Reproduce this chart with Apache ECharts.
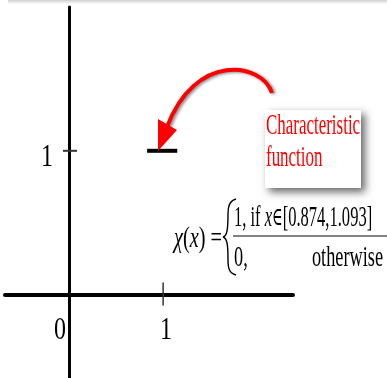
<!DOCTYPE html>
<html>
<head>
<meta charset="utf-8">
<script src="https://cdn.jsdelivr.net/npm/echarts@6/dist/echarts.min.js"></script>
<style>
  html, body { margin: 0; padding: 0; background: #fff; }
  #chart { width: 387px; height: 378px; }
</style>
</head>
<body>
<div id="chart"></div>
<script>
// axis ranges (origin sits near the lower left)
const xRange = [-0.68, 2.38];
const yRange = [-0.58, 2.0];

// ticks and tick labels
const xTicks = [1];
const yTicks = [1];
const xTickLabels = [0, 1];
const yTickLabels = [1];

// the characteristic function: 1 on a short interval around x = 1
const segmentX = [0.83, 1.15];
const segmentY = 1;

// annotation texts
const calloutLines = ["Characteristic", "function"];
const formulaLeft = "{i|χ}({i|x}) =";
const formulaTop = "1, if {i|x}{s|∈}[0.874,1.093]";
const formulaBottomLeft = "0,";
const formulaBottomRight = "otherwise";

const serif = "'Liberation Serif', 'Times New Roman', serif";
const chart = echarts.init(document.getElementById("chart"));

const labelText = (x, y, text) => ({
  type: "text",
  x: x,
  y: y,
  scaleX: 0.75,
  style: {
    text: String(text),
    fontFamily: serif,
    fontSize: 32,
    fill: "#000",
    align: "center",
    verticalAlign: "middle",
  },
});

chart.setOption({
  animation: false,
  grid: { left: 5, right: 94, top: 7, bottom: 0, containLabel: false },
  xAxis: {
    type: "value",
    min: xRange[0],
    max: xRange[1],
    axisLine: { onZero: true, lineStyle: { color: "#000", width: 4 } },
    axisTick: { show: false },
    axisLabel: { show: false },
    splitLine: { show: false },
  },
  yAxis: {
    type: "value",
    min: yRange[0],
    max: yRange[1],
    axisLine: { onZero: true, lineStyle: { color: "#000", width: 3 } },
    axisTick: { show: false },
    axisLabel: { show: false },
    splitLine: { show: false },
  },
  series: [
    {
      name: "chi",
      type: "line",
      data: segmentX.map((x) => [x, segmentY]),
      symbol: "none",
      lineStyle: { color: "#000", width: 4, cap: "butt" },
      z: 3,
    },
    {
      // x ticks cross the axis line
      type: "custom",
      data: xTicks.map((v) => [v, 0]),
      renderItem: (params, api) => {
        const p = api.coord([api.value(0), api.value(1)]);
        return {
          type: "line",
          shape: { x1: p[0], y1: p[1] - 12, x2: p[0], y2: p[1] + 11 },
          style: { stroke: "#333", lineWidth: 1.5 },
        };
      },
      z: 4,
    },
    {
      type: "custom",
      data: yTicks.map((v) => [0, v]),
      renderItem: (params, api) => {
        const p = api.coord([api.value(0), api.value(1)]);
        return {
          type: "line",
          shape: { x1: p[0] - 6, y1: p[1], x2: p[0] + 8, y2: p[1] },
          style: { stroke: "#333", lineWidth: 2 },
        };
      },
      z: 4,
    },
    {
      type: "custom",
      data: xTickLabels.map((v) => [v, 0]),
      renderItem: (params, api) => {
        const v = api.value(0);
        const p = api.coord([v, 0]);
        // the 0 is pushed left, off the vertical axis
        const dx = v === 0 ? -9 : 3;
        return labelText(p[0] + dx, p[1] + 36, v);
      },
    },
    {
      type: "custom",
      data: yTickLabels.map((v) => [0, v]),
      renderItem: (params, api) => {
        const v = api.value(1);
        const p = api.coord([0, v]);
        return labelText(p[0] - 22, p[1] + 7, v);
      },
    },
  ],
  graphic: [
    // faint grey edge along the top
    {
      type: "rect",
      shape: { x: 8, y: 0, width: 390, height: 4 },
      style: {
        fill: new echarts.graphic.LinearGradient(0, 0, 0, 1, [
          { offset: 0, color: "#cfcfcf" },
          { offset: 1, color: "#ffffff" },
        ]),
      },
    },
    // callout box
    {
      type: "rect",
      shape: { x: 265, y: 110, width: 96, height: 78 },
      style: {
        fill: "#fff",
        shadowBlur: 8,
        shadowColor: "rgba(0,0,0,0.6)",
        shadowOffsetX: 4,
        shadowOffsetY: 4,
      },
      z: 10,
    },
    {
      type: "text",
      x: 266,
      y: 126,
      scaleX: 0.565,
      style: { text: calloutLines[0], fontFamily: serif, fontSize: 30, fill: "#ff0000", verticalAlign: "middle" },
      z: 11,
    },
    {
      type: "text",
      x: 266,
      y: 158,
      scaleX: 0.565,
      style: { text: calloutLines[1], fontFamily: serif, fontSize: 30, fill: "#ff0000", verticalAlign: "middle" },
      z: 11,
    },
    // curved red arrow
    {
      type: "bezierCurve",
      shape: { x1: 272, y1: 93, cpx1: 262, cpy1: 62, cpx2: 195, cpy2: 52, x2: 167, y2: 127 },
      style: {
        stroke: "#ff0000",
        lineWidth: 4,
        fill: null,
        shadowBlur: 3,
        shadowColor: "rgba(0,0,0,0.45)",
        shadowOffsetX: 2,
        shadowOffsetY: 1,
      },
      z: 10,
    },
    {
      type: "polygon",
      shape: { points: [[158, 151], [158, 119], [177, 130]] },
      style: { fill: "#ff0000" },
      z: 10,
    },
    // formula
    {
      type: "text",
      x: 174,
      y: 239,
      scaleX: 0.7,
      style: {
        text: formulaLeft,
        fontFamily: serif,
        fontSize: 29,
        fill: "#000",
        verticalAlign: "middle",
        rich: { i: { fontStyle: "italic", fontFamily: serif, fontSize: 29 } },
      },
    },
    { type: "bezierCurve", shape: { x1: 236, y1: 199, cpx1: 229, cpy1: 201, cpx2: 228, cpy2: 207, x2: 228, y2: 214 }, style: { stroke: "#000", lineWidth: 1.4, fill: null } },
    { type: "bezierCurve", shape: { x1: 228, y1: 214, cpx1: 228, cpy1: 230, cpx2: 227, cpy2: 236, x2: 223, y2: 237 }, style: { stroke: "#000", lineWidth: 1.4, fill: null } },
    { type: "bezierCurve", shape: { x1: 223, y1: 237, cpx1: 227, cpy1: 238, cpx2: 228, cpy2: 244, x2: 228, y2: 260 }, style: { stroke: "#000", lineWidth: 1.4, fill: null } },
    { type: "bezierCurve", shape: { x1: 228, y1: 260, cpx1: 228, cpy1: 268, cpx2: 229, cpy2: 273, x2: 236, y2: 275 }, style: { stroke: "#000", lineWidth: 1.4, fill: null } },
    {
      type: "text",
      x: 234,
      y: 218,
      scaleX: 0.57,
      style: {
        text: formulaTop,
        fontFamily: serif,
        fontSize: 29,
        fill: "#000",
        verticalAlign: "middle",
        rich: {
          i: { fontStyle: "italic", fontFamily: serif, fontSize: 29 },
          s: { fontFamily: "'DejaVu Serif', serif", fontSize: 25 },
        },
      },
    },
    { type: "line", shape: { x1: 233, y1: 236, x2: 387, y2: 236 }, style: { stroke: "#000", lineWidth: 1 } },
    {
      type: "text",
      x: 234,
      y: 258,
      scaleX: 0.63,
      style: { text: formulaBottomLeft, fontFamily: serif, fontSize: 29, fill: "#000", verticalAlign: "middle" },
    },
    {
      type: "text",
      x: 383,
      y: 258,
      scaleX: 0.63,
      style: { text: formulaBottomRight, fontFamily: serif, fontSize: 29, fill: "#000", align: "right", verticalAlign: "middle" },
    },
  ],
});
</script>
</body>
</html>
